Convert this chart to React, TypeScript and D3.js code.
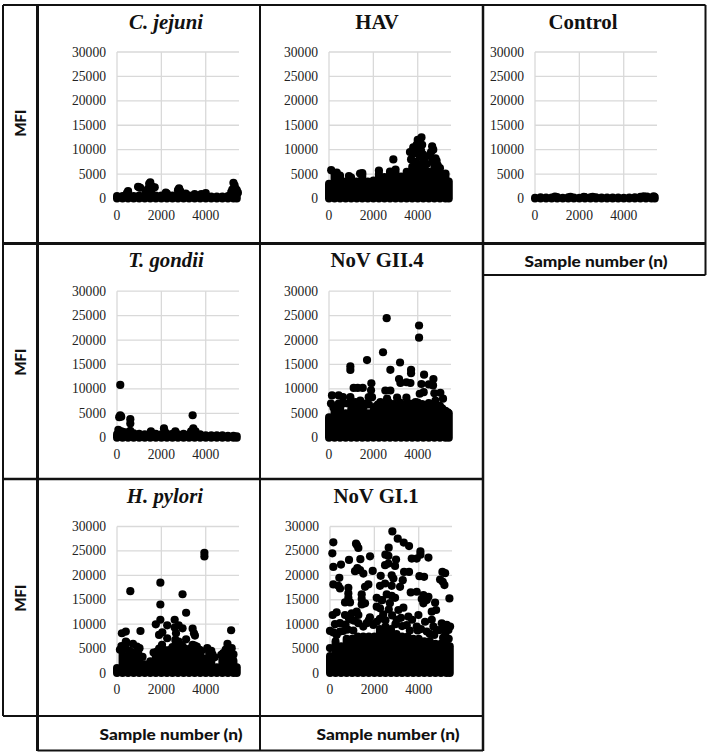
import React from "react";
import * as d3 from "d3";

type P = [number, number];

const yTickValues = [0, 5000, 10000, 15000, 20000, 25000, 30000];
const xTickValues = [0, 2000, 4000];
const sampleColumns = [0,250,500,750,1000,1250,1500,1750,2000,2250,2500,2750,3000,3250,3500,3750,4000,4250,4500,4750,5000,5250,5400];

const cJejuniBand = [500,500,700,500,600,500,700,600,600,600,600,500,500,600,500,500,600,400,400,400,500,600,500];
const cJejuniPoints: P[] = [[500,1500],[450,1100],[1000,2300],[950,2400],[1050,2200],[1500,3300],[1450,3000],[1400,2000],[1700,2300],[1600,2400],[1300,1500],[1550,1700],[2250,1000],[2200,1200],[2800,2100],[2750,1700],[2850,1500],[3100,1000],[3500,900],[3800,900],[4000,1100],[5250,3200],[5300,2700],[5200,1800],[5400,1700],[5450,1200],[5150,1300],[5350,2000]];

const havBand = [3000,5000,4700,3500,4300,3500,4900,3500,3700,5000,4400,5000,5200,4500,5500,6500,7000,7500,5500,6500,5000,4700,3500];
const havPoints: P[] = [[100,5800],[350,5300],[900,4600],[1500,5200],[1400,5100],[2250,5700],[3000,5900],[2750,5500],[2900,8000],[3650,9500],[3700,8000],[3800,10500],[3850,9200],[3950,11000],[4000,12000],[4050,10000],[4100,11800],[4170,12500],[4200,11000],[4150,9800],[4250,9000],[4300,7800],[4100,8500],[3900,7500],[4600,9500],[4650,10700],[4550,8700],[4700,10000],[4800,8200],[4850,7700],[4900,6800],[5000,6200],[4400,7000],[4650,7500],[5250,5100]];

const controlBand = [150,250,200,200,300,150,250,200,150,300,250,250,200,200,200,200,150,200,250,350,300,200,300];
const controlPoints: P[] = [[900,400],[1600,350],[2200,350],[2600,350],[4900,450],[5050,400],[5350,450]];

const tGondiiBand = [700,1200,800,900,800,700,900,800,700,800,800,700,800,700,1000,700,500,500,500,500,400,400,300];
const tGondiiPoints: P[] = [[147,10800],[147,4600],[100,4200],[190,4300],[600,3800],[600,2900],[3410,4600],[60,1600],[3440,1900],[3340,1300],[3540,1300],[600,1400],[190,1300],[2117,1900],[2150,1300],[1530,1300],[2630,1300],[400,1100]];

const novGii4Band = [4200,5500,4500,5000,5800,5800,5200,5000,5500,6000,6000,6500,6500,6000,6000,6000,6500,6500,6500,6000,5500,5000,5000];
const novGii4Points: P[] = [[2600,24470],[4060,22980],[4060,20480],[2436,17500],[1715,15890],[963,14600],[963,13860],[2767,13900],[3203,15400],[3700,13900],[3700,13200],[4286,12900],[4707,12000],[3158,12000],[3220,11200],[3490,11350],[3670,11200],[4166,11000],[4500,10900],[4690,10700],[1910,11150],[1113,10200],[1293,10200],[1520,10200],[1895,9700],[2540,9670],[2767,9670],[4270,9330],[4090,9000],[4750,9100],[5020,9200],[135,8650],[436,8650],[630,8300],[963,8300],[1790,8300],[1940,8300],[5140,8000],[4800,7600],[3070,8200],[3490,8200],[3900,7300],[90,7000],[436,7000],[1190,7300],[1410,7600],[2316,7300],[2617,8000],[360,5950],[1040,6000],[1560,6300],[2090,6300],[200,6200],[500,6000],[650,7000],[1300,6500],[1650,7000],[1800,6800],[2200,6800],[2450,7000],[2700,7200],[2900,6900],[3200,7200],[3400,6800],[3650,7000],[4000,7200],[4200,6900],[4500,7100],[4700,6800],[5000,6500],[5100,6000],[5250,5500],[5350,5200],[850,7000],[1000,6800]];

const hPyloriBand = [1000,3800,3500,3000,2800,1800,2400,3500,4000,3500,4000,5000,4000,3800,4500,3800,3000,3000,1200,2800,3500,2500,1200];
const hPyloriPoints: P[] = [[3940,24600],[3940,23870],[1955,18500],[600,16750],[2955,16130],[1955,14030],[3116,12340],[2600,10900],[1955,10900],[1750,9970],[2264,9760],[2780,9760],[2955,9150],[2600,9300],[3410,9080],[5145,8750],[1058,8600],[397,8475],[220,8135],[3470,8135],[3513,7660],[2043,8340],[1896,7800],[2660,8135],[2264,7120],[3116,6900],[2630,6780],[2780,6440],[397,6440],[720,5960],[4980,5960],[2030,5760],[3410,5760],[5170,5080],[4070,5080],[4250,4540],[4790,4070],[1014,5080],[897,5420],[132,4750],[3730,4750],[200,5500],[300,5000],[420,6300],[380,5800],[250,4800],[550,4600],[640,4300],[800,4000],[950,4200],[1150,3300],[1650,4200],[1800,4400],[1900,5000],[2150,4700],[2350,4700],[2450,4500],[2500,5300],[2650,6000],[2850,5800],[2950,5500],[3050,5000],[3300,5000],[3500,5600],[3600,5400],[3800,4500],[4150,4300],[4300,3800],[4400,3200],[4700,3700],[4900,4800],[5100,4300],[5250,3800],[5200,3300]];

const novGi1Band = [3500,6500,5500,7000,7000,7500,7500,7500,7500,9000,9500,9000,8000,7500,7500,7000,7000,6500,6500,6000,6000,5500,5500];
const novGi1Points: P[] = [[2812,29000],[3053,27500],[3324,26700],[3564,26000],[150,26750],[1173,26480],[1218,26140],[1278,25600],[2647,25670],[105,24500],[4076,24900],[4076,24240],[4437,23630],[2497,24240],[2632,23970],[1805,23900],[857,23150],[1369,23300],[2978,23220],[3685,23430],[3910,23430],[496,22200],[150,21730],[2632,22400],[2482,22070],[2933,21930],[1233,21500],[1354,21050],[1128,20850],[1504,20370],[1925,20900],[3339,20700],[3564,20700],[5068,20700],[5189,20440],[2286,19900],[2782,20000],[2858,19350],[421,19500],[4031,19830],[4241,19700],[3279,19000],[4963,19150],[5083,18670],[5159,18000],[150,18130],[376,17860],[451,17300],[827,17450],[1730,18130],[1579,17650],[2256,17860],[2482,18330],[2782,17860],[3158,17650],[3640,16500],[3910,16640],[827,16300],[827,15400],[677,14460],[902,14460],[1429,16090],[1429,15140],[2557,16090],[2782,15800],[2933,15400],[4211,15950],[4437,15600],[2106,15400],[2331,14940],[4136,15140],[4211,14260],[4362,14940],[5384,15280],[1429,14050],[1579,14260],[4738,14400],[2106,13580],[2256,13240],[3309,13380],[3083,12900],[4587,12560],[4783,12900],[300,12430],[120,11880],[677,11880],[978,12220],[1203,12560],[1278,11880],[3534,11540],[3985,11880],[1800,11400],[978,10900],[451,10200],[225,10000],[5038,10180],[5264,9850],[5414,9500],[5339,8830],[5113,9030],[0,8620],[451,8490],[0,5100],[4286,10500],[4587,10900],[3910,9500],[4663,9500],[4813,8800],[4362,8500],[3459,9800],[3008,10900],[1654,10200],[1955,9850],[1278,10200],[2106,10500],[2400,12000],[2650,13000],[2800,11800],[2500,10800],[2950,10000],[2700,14300],[2350,14900],[3200,11300],[3700,10900],[3250,9600],[700,9900],[850,11200],[1100,10700],[1500,9500],[1750,10800],[2250,11100],[4100,9000],[4500,8000],[4950,8800],[5200,8000],[5350,7000],[5250,6200],[5100,7200],[4700,7800],[3950,8700],[3600,8700],[150,8300],[300,7800],[600,8600],[800,8900],[1050,8700]];

const AXIS_W = 122;
const Y_H = 146.5;
const columnX = [117, 329, 535];
const rowY = [198.5, 437.7, 673];

const serif = "'Liberation Serif','Times New Roman',serif";
const gothic = "Lato,'Open Sans',sans-serif";
const ink = "#111";

interface PanelProps { title: string; italic?: boolean; x0: number; y0: number; titleX: number; titleY: number; band: number[]; points: P[]; }

function Panel({ title, italic, x0, y0, titleX, titleY, band, points }: PanelProps) {
  const x = d3.scaleLinear().domain([0, 5500]).range([x0, x0 + AXIS_W]);
  const y = d3.scaleLinear().domain([0, 30000]).range([y0, y0 - Y_H]);
  return (
    <g>
      <text x={titleX} y={titleY} textAnchor="middle" fontFamily={serif} fontSize={20.8} fontWeight="bold" fontStyle={italic ? "italic" : "normal"} fill="#111">{title}</text>
      {yTickValues.map(t => (
        <g key={t}>
          <line x1={x0} x2={x0 + AXIS_W} y1={y(t)} y2={y(t)} stroke="#d9d9d9" strokeWidth={1.3} />
          <text x={x0 - 11} y={y(t) + 4.5} textAnchor="end" fontFamily={serif} fontSize={13.6} fill="#222">{t}</text>
        </g>
      ))}
      {xTickValues.map(t => (
        <g key={t}>
          <line x1={x(t)} x2={x(t)} y1={y0} y2={y0 - Y_H} stroke="#d9d9d9" strokeWidth={1.3} />
          <text x={x(t)} y={y0 + 21} textAnchor="middle" fontFamily={serif} fontSize={13.6} fill="#222">{t}</text>
        </g>
      ))}
      {sampleColumns.map((s, i) => (
        <line key={s} x1={x(s)} x2={x(s)} y1={y(band[i])} y2={y(0)} stroke="#000" strokeWidth={8} strokeLinecap="round" />
      ))}
      {sampleColumns.slice(1).map((s, i) => (
        <rect key={s} x={x(sampleColumns[i])} width={x(s) - x(sampleColumns[i])} y={y(Math.min(band[i], band[i + 1]))} height={y(0) - y(Math.min(band[i], band[i + 1]))} fill="#000" />
      ))}
      {points.map(([a, b], i) => (
        <circle key={i} cx={x(a)} cy={y(b)} r={4.1} fill="#000" />
      ))}
    </g>
  );
}

const rules: [number, number, number, number, number][] = [
  [3, 5, 705.5, 5, 2], [3, 5, 3, 716, 2], [37.5, 5, 37.5, 751, 3],
  [260, 5, 260, 750, 2], [483, 5, 483, 751, 2.5], [705.5, 5, 705.5, 275, 2],
  [3, 243.5, 705.5, 243.5, 3], [483, 275, 705.5, 275, 2],
  [3, 479, 483, 479, 2.5], [3, 716, 483, 716, 2], [37.5, 750.5, 483, 750.5, 2],
];

const MFI = ({ cy }: { cy: number }) => (
  <text transform={`translate(26,${cy}) rotate(-90)`} textAnchor="middle" fontFamily={gothic} fontSize={15.5} fontWeight={900} textLength={27} lengthAdjust="spacingAndGlyphs" fill={ink}>MFI</text>
);
const Sample = ({ cx, cy }: { cx: number; cy: number }) => (
  <text x={cx} y={cy + 5} textAnchor="middle" fontFamily={gothic} fontSize={15} fontWeight={900} textLength={143} lengthAdjust="spacingAndGlyphs" fill={ink}>Sample number (n)</text>
);

export default function App() {
  return (
    <svg width={709} height={756} style={{ position: "absolute", left: 0, top: 0, background: "#fff" }}>
      <Panel title="C. jejuni" italic x0={columnX[0]} y0={rowY[0]} titleX={166} titleY={29} band={cJejuniBand} points={cJejuniPoints} />
      <Panel title="HAV" x0={columnX[1]} y0={rowY[0]} titleX={377} titleY={29} band={havBand} points={havPoints} />
      <Panel title="Control" x0={columnX[2]} y0={rowY[0]} titleX={583} titleY={29} band={controlBand} points={controlPoints} />
      <Panel title="T. gondii" italic x0={columnX[0]} y0={rowY[1]} titleX={166} titleY={267} band={tGondiiBand} points={tGondiiPoints} />
      <Panel title="NoV GII.4" x0={columnX[1]} y0={rowY[1]} titleX={377} titleY={267} band={novGii4Band} points={novGii4Points} />
      <Panel title="H. pylori" italic x0={columnX[0]} y0={rowY[2]} titleX={165} titleY={503} band={hPyloriBand} points={hPyloriPoints} />
      <Panel title="NoV GI.1" x0={330} y0={rowY[2]} titleX={376} titleY={503} band={novGi1Band} points={novGi1Points} />
      {rules.map(([a, b, c, d, w], i) => (
        <line key={i} x1={a} y1={b} x2={c} y2={d} stroke="#111" strokeWidth={w} />
      ))}
      <MFI cy={123} />
      <MFI cy={362} />
      <MFI cy={598} />
      <Sample cx={171} cy={735} />
      <Sample cx={388} cy={735} />
      <Sample cx={596} cy={262} />
    </svg>
  );
}
